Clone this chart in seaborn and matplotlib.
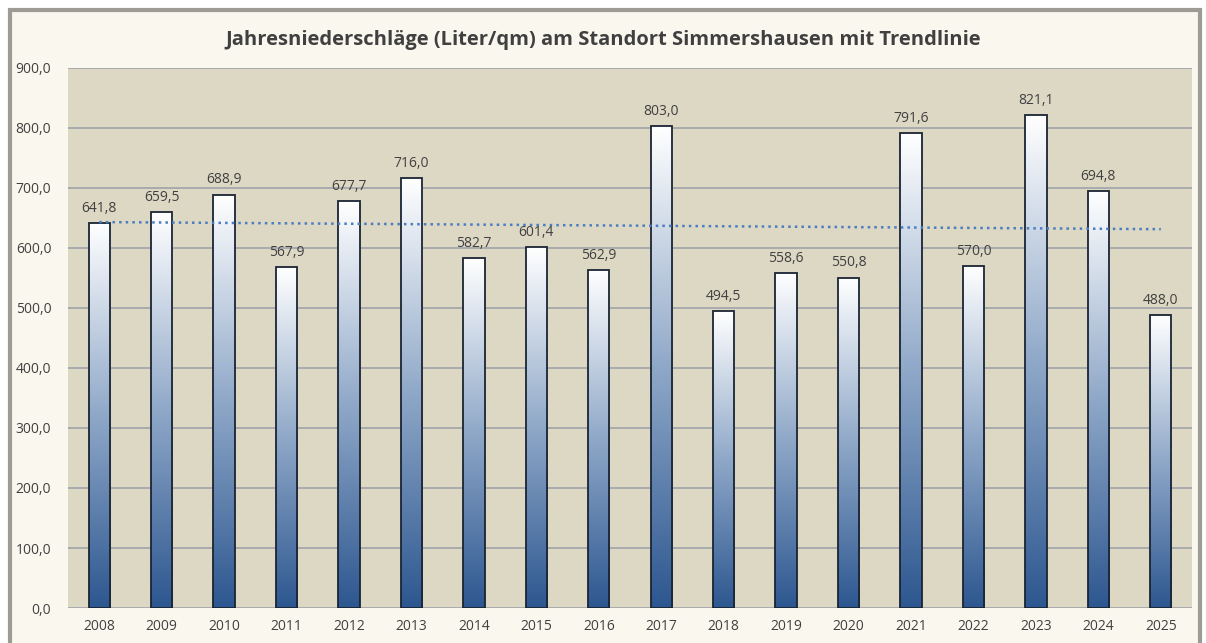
import numpy as np
import pandas as pd
import seaborn as sns
import matplotlib.pyplot as plt
from matplotlib.patches import Rectangle
from matplotlib.colors import LinearSegmentedColormap

# data
years = ['2008', '2009', '2010', '2011', '2012', '2013', '2014', '2015', '2016',
         '2017', '2018', '2019', '2020', '2021', '2022', '2023', '2024', '2025']
rain = [641.8, 659.5, 688.9, 567.9, 677.7, 716.0, 582.7, 601.4, 562.9,
        803.0, 494.5, 558.6, 550.8, 791.6, 570.0, 821.1, 694.8, 488.0]
yticks = [0, 100, 200, 300, 400, 500, 600, 700, 800, 900]

df = pd.DataFrame({'Jahr': years, 'Niederschlag': rain})

sns.set_style('white')
plt.rcParams['font.family'] = ['Open Sans', 'DejaVu Sans']
txt = '#404040'

fig = plt.figure(figsize=(12.06, 6.43), dpi=100)
fig.patch.set_facecolor('white')
# chart frame
fig.patches.append(Rectangle((10/1206, -0.05), 1190/1206, 1.05 - 10/643, transform=fig.transFigure,
                             facecolor='#FAF8EE', edgecolor='#9C9C94', linewidth=3, zorder=-5))

ax = fig.add_axes([68/1206, 1 - 608/643, 1124/1206, 540/643])
ax.set_zorder(2)
ax.set_facecolor('#DDD8C4')

sns.barplot(data=df, x='Jahr', y='Niederschlag', ax=ax, width=0.34,
            color='white', edgecolor='#1A2433', linewidth=1.3, zorder=3)

# gradient fill inside each bar
cmap = LinearSegmentedColormap.from_list('grad', ['#2D5790', '#8FA8C8', '#FFFFFF'])
grad = np.linspace(0, 1, 256).reshape(-1, 1)
for p in ax.patches:
    x0, w, h = p.get_x(), p.get_width(), p.get_height()
    im = ax.imshow(grad, cmap=cmap, aspect='auto', origin='lower',
                   extent=[x0, x0 + w, 0, h], zorder=2.5)
    im.set_clip_path(p)
    p.set_facecolor('none')

# trendline
xs = np.arange(len(years))
k, d = np.polyfit(xs, rain, 1)
ax.plot(xs, k * xs + d, linestyle=':', color='#4A7EC0', linewidth=1.8, zorder=4)

for i, v in enumerate(rain):
    ax.text(i, v + 12, f'{v:.1f}'.replace('.', ','), ha='center', va='bottom',
            fontsize=10, color=txt, zorder=5)

ax.set_xlim(-0.5, len(years) - 0.5)
ax.set_ylim(0, 900)
ax.set_yticks(yticks)
ax.set_yticklabels([f'{t:.1f}'.replace('.', ',') for t in yticks])
ax.yaxis.grid(True, color='#A0A2A8', linewidth=1.2, zorder=1)
ax.set_axisbelow(True)
for s in ax.spines.values():
    s.set_visible(False)
ax.tick_params(axis='both', length=0, labelsize=10, labelcolor=txt)
ax.tick_params(axis='y', pad=12)
ax.tick_params(axis='x', pad=8)
ax.set_xlabel('')
ax.set_ylabel('')

fig.text(0.5, 1 - 40/643, 'Jahresniederschläge (Liter/qm) am Standort Simmershausen mit Trendlinie',
         ha='center', va='center', fontsize=14.5, fontweight='bold', color=txt)

fig.savefig('out.png', dpi=100)
